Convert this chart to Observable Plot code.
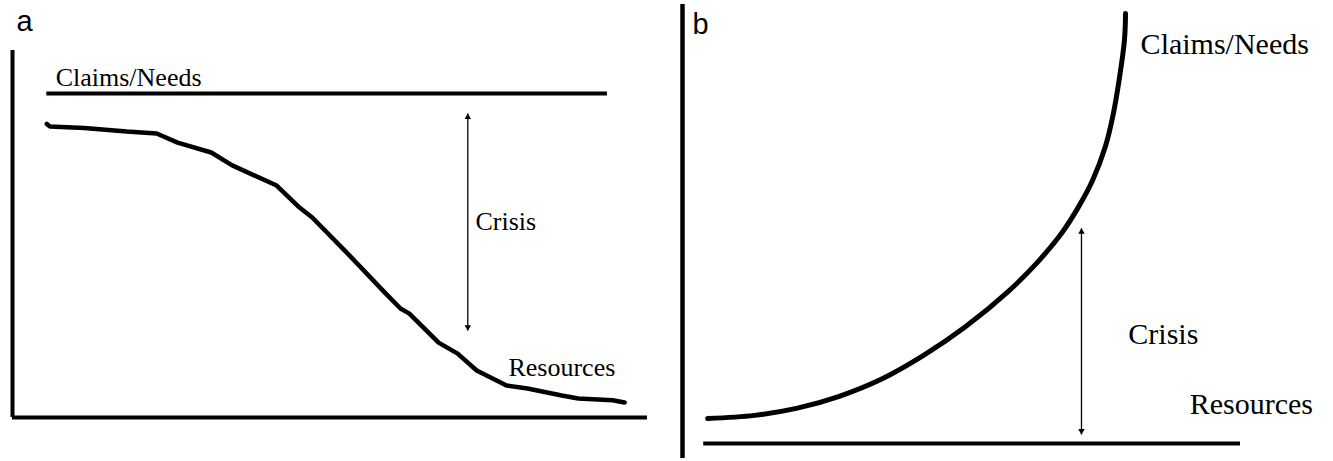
<!DOCTYPE html>
<html><head><meta charset="utf-8">
<script src="https://cdn.jsdelivr.net/npm/d3@7"></script>
<script src="https://cdn.jsdelivr.net/npm/@observablehq/plot@0.6"></script>
<style>
html,body{margin:0;padding:0;background:#fff;}
#wrap{display:flex;width:1333px;height:461px;overflow:hidden;}
#wrap svg{display:block;flex:none;}
</style></head><body><div id="wrap"></div>
<script>
// ---------- Panel a (abstract units: time 0..100, level 0..100) ----------
const aTime      = [5.4, 5.9, 11.3, 18.0, 22.7, 26.0, 31.3, 34.6, 41.6, 45.2, 47.2, 52.6, 58.6, 61.1, 62.5, 67.1, 70.1, 73.1, 77.8, 81.1, 86.5, 89.1, 94.5, 96.4];
const aResources = [80.0, 79.3, 78.9, 77.9, 77.4, 74.9, 72.2, 68.7, 63.2, 57.2, 54.5, 45.0, 34.1, 29.7, 28.3, 20.4, 17.4, 12.8, 8.7, 7.9, 6.0, 5.2, 4.7, 4.1];
const aClaimsLevel = [88.3];
const aClaimsSpan  = [5.4, 93.7];
const aArrowX      = [71.7];
const aArrowEnds   = [82.8, 23.7];
const aLabels      = ["Claims/Needs", "Crisis", "Resources"];
const aLabelX      = [6.8, 72.9, 78.1];
const aLabelY      = [90.2, 51.0, 11.4];

// ---------- Panel b ----------
const bTime   = [4.5, 12.9, 20.6, 28.1, 35.7, 43.2, 50.7, 58.4, 63.6, 68.1, 71.1, 73.5, 75.8, 77.2, 78.3, 79.2, 79.4];
const bClaims = [8.8, 9.5, 11.1, 13.7, 17.5, 22.7, 29.0, 36.8, 43.2, 49.9, 55.7, 61.3, 68.8, 75.9, 83.8, 92.1, 98.0];
const bResourcesLevel = [3.3];
const bResourcesSpan  = [3.8, 100];
const bArrowX    = [71.5];
const bArrowEnds = [50.7, 5.3];
const bLabels    = ["Claims/Needs", "Crisis", "Resources"];
const bLabelX    = [82.1, 79.9, 90.9];
const bLabelY    = [89.2, 25.3, 9.9];

const SERIF = "'Liberation Serif', 'Times New Roman', Times, serif";
const SANS  = "'Liberation Sans', Arial, Helvetica, sans-serif";

function arrowMarks(xs, ends) {
  const x = xs[0];
  return [
    Plot.link([0], {x1: x, x2: x, y1: ends[0], y2: ends[1], stroke: "black", strokeWidth: 1.3}),
    Plot.dot([{x, y: ends[0]}], {x: "x", y: "y", symbol: "triangle", r: 2.4, fill: "black", stroke: "none", dy: 3.5}),
    Plot.dot([{x, y: ends[1]}], {x: "x", y: "y", symbol: "triangle", r: 2.4, fill: "black", stroke: "none", rotate: 180, dy: -3.5})
  ];
}

const aLine = aTime.map((t, i) => ({t, v: aResources[i]}));
const aText = aLabels.map((s, i) => ({s, x: aLabelX[i], y: aLabelY[i]}));

const plotA = Plot.plot({
  width: 666, height: 461,
  marginLeft: 12, marginRight: 19, marginTop: 50, marginBottom: 44,
  x: {domain: [0, 100], axis: null},
  y: {domain: [0, 100], axis: null},
  style: {background: "white", overflow: "visible"},
  marks: [
    Plot.ruleX([0], {y1: 0, y2: 100, stroke: "black", strokeWidth: 4}),
    Plot.ruleY([0], {x1: 0, x2: 100, stroke: "black", strokeWidth: 4}),
    Plot.ruleY(aClaimsLevel, {x1: aClaimsSpan[0], x2: aClaimsSpan[1], stroke: "black", strokeWidth: 4}),
    Plot.line(aLine, {x: "t", y: "v", stroke: "black", strokeWidth: 4.5, strokeLinejoin: "round", strokeLinecap: "round"}),
    ...arrowMarks(aArrowX, aArrowEnds),
    Plot.text(aText, {x: "x", y: "y", text: "s", textAnchor: "start", lineAnchor: "bottom", fontSize: 26, fontFamily: SERIF, fill: "black"}),
    Plot.text(["a"], {frameAnchor: "top-left", textAnchor: "start", lineAnchor: "bottom", dx: 4, dy: -20, fontSize: 29, fontFamily: SANS, fill: "black"})
  ]
});

const bLine = bTime.map((t, i) => ({t, v: bClaims[i]}));
const bText = bLabels.map((s, i) => ({s, x: bLabelX[i], y: bLabelY[i]}));

const plotB = Plot.plot({
  width: 667, height: 461,
  marginLeft: 16, marginRight: 93, marginTop: 4, marginBottom: 3,
  x: {domain: [0, 100], axis: null},
  y: {domain: [0, 100], axis: null},
  style: {background: "white", overflow: "visible"},
  marks: [
    Plot.ruleX([0], {y1: 0, y2: 100, stroke: "black", strokeWidth: 4.5}),
    Plot.ruleY(bResourcesLevel, {x1: bResourcesSpan[0], x2: bResourcesSpan[1], stroke: "black", strokeWidth: 4}),
    Plot.line(bLine, {x: "t", y: "v", curve: "catmull-rom", stroke: "black", strokeWidth: 5, strokeLinecap: "round"}),
    ...arrowMarks(bArrowX, bArrowEnds),
    Plot.text(bText, {x: "x", y: "y", text: "s", textAnchor: "start", lineAnchor: "bottom", fontSize: 30, fontFamily: SERIF, fill: "black"}),
    Plot.text(["b"], {frameAnchor: "top-left", textAnchor: "start", lineAnchor: "bottom", dx: 10, dy: 29, fontSize: 29, fontFamily: SANS, fill: "black"})
  ]
});

const wrap = document.getElementById("wrap");
wrap.appendChild(plotA);
wrap.appendChild(plotB);
</script>
</body></html>
